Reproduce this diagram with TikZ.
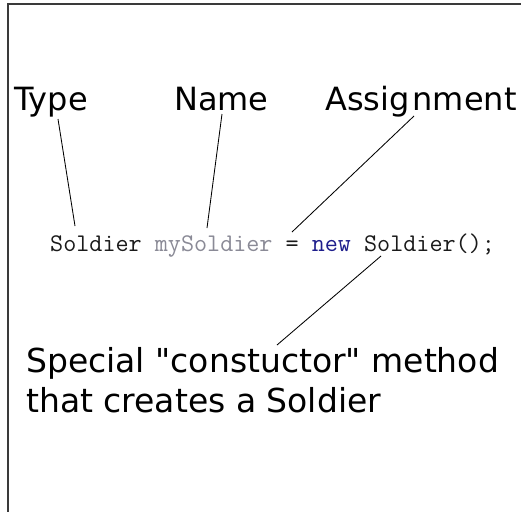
\documentclass[tikz,border=0pt]{standalone}
\usepackage{fontspec}
\setmainfont{DejaVu Sans}
\newcommand\straightdq{\XeTeXglyph\XeTeXcharglyph"22\relax}
\definecolor{framegray}{HTML}{3A3A3A}
\definecolor{codedark}{HTML}{1A1A1A}
\definecolor{codegray}{HTML}{8A8A96}
\definecolor{codenavy}{HTML}{1E1E8C}
\begin{document}
\begin{tikzpicture}[x=1pt,y=-1pt,
  label/.style={inner sep=0pt,anchor=base west,font=\fontsize{32}{38}\selectfont},
  codeline/.style={inner sep=0pt,anchor=base west,font=\ttfamily\fontsize{25.4}{29}\selectfont},
  note/.style={inner sep=0pt,anchor=base west,align=left,font=\fontsize{33}{40}\selectfont},
  pointer/.style={draw=black,line width=0.85pt},
  frameline/.style={draw=framegray,line width=2pt}]
\useasboundingbox (0,0) rectangle (521,512);
\fill[white] (0,0) rectangle (521,512);
% frame
\coordinate (fTL) at (8,4);
\coordinate (fTR) at (521,4);
\coordinate (fBL) at (8,512);
\draw[frameline] (fTR) -- (fTL) -- (fBL);
% labels
\node[label] (type) at (14,110) {Type};
\node[label] (name) at (174,110) {Name};
\node[label] (assign) at (325,110) {Assig\kern3pt nment};
% code
\node[codeline] (code) at (50,251) {\textcolor{codedark}{Soldier} \textcolor{codegray}{mySoldier} \textcolor{codedark}{=} \textcolor{codenavy}{new} \textcolor{codedark}{Soldier();}};
% note (base anchor = last line)
\node[note] (note) at (26,412) {Special \straightdq constuctor\straightdq{} method\\that creates a Soldier};
% connector end points
\coordinate (typeA) at (58,119);
\coordinate (typeB) at (75,226);
\coordinate (nameA) at (222,114);
\coordinate (nameB) at (207,228);
\coordinate (assignA) at (414,116);
\coordinate (assignB) at (292,232);
\coordinate (ctorA) at (381,256);
\coordinate (ctorB) at (277,345);
\draw[pointer] (typeA) -- (typeB);
\draw[pointer] (nameA) -- (nameB);
\draw[pointer] (assignA) -- (assignB);
\draw[pointer] (ctorA) -- (ctorB);
\end{tikzpicture}
\end{document}
